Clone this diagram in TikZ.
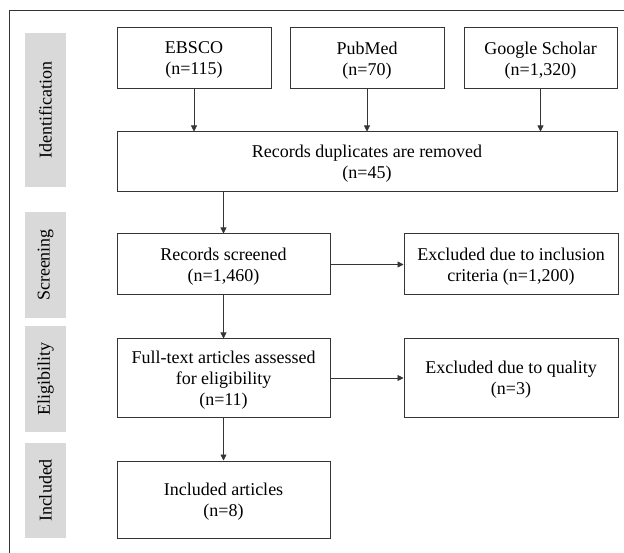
\documentclass[tikz,border=0pt]{standalone}
\usepackage{fontspec}
\setmainfont{Liberation Serif}
\usetikzlibrary{arrows.meta}
\definecolor{linegray}{HTML}{353535}
\definecolor{labelgray}{HTML}{D9D9D9}
\begin{document}
\begin{tikzpicture}[x=1pt,y=-1pt,
  box/.style={draw=linegray, line width=1pt, fill=white, align=center,
    inner sep=2pt, text depth=0pt, font=\fontsize{18}{21}\selectfont},
  phase/.style={fill=labelgray, rotate=90, inner sep=0pt, minimum height=41pt,
    font=\fontsize{18}{21}\selectfont},
  arr/.style={draw=linegray, line width=0.7pt, -{Triangle[length=6pt,width=6pt]}}]
\useasboundingbox (0,0) rectangle (624,553);
% frame (only left and top edges visible)
\coordinate (fbl) at (9,553);
\coordinate (ftl) at (9,11);
\coordinate (ftr) at (624,11);
\draw[linegray, line width=1pt] (fbl) -- (ftl) -- (ftr);
% phase labels
\node[phase, minimum width=154pt] (lid) at (45.5,110) {Identification};
\node[phase, minimum width=106pt] (lsc) at (45.5,265) {Screening};
\node[phase, minimum width=106pt] (lel) at (45.5,379) {Eligibility};
\node[phase, minimum width=95pt] (lin) at (45.5,490.5) {Included};
% boxes
\node[box, minimum width=154pt, minimum height=61pt] (ebsco) at (194,58.5) {EBSCO\\(n=115)};
\node[box, minimum width=154pt, minimum height=61pt] (pubmed) at (367,58.5) {PubMed\\(n=70)};
\node[box, minimum width=153pt, minimum height=61pt] (google) at (540.5,58.5) {Google Scholar\\(n=1,320)};
\node[box, minimum width=500pt, minimum height=60pt] (dup) at (367,162) {Records duplicates are removed\\(n=45)};
\node[box, minimum width=213pt, minimum height=61pt] (screen) at (223.5,264.5) {Records screened\\(n=1,460)};
\node[box, minimum width=214pt, minimum height=61pt] (exincl) at (511,264.5) {Excluded due to inclusion\\criteria (n=1,200)};
\node[box, minimum width=213pt, minimum height=78pt] (full) at (223.5,378) {Full-text articles assessed\\for eligibility\\(n=11)};
\node[box, minimum width=214pt, minimum height=78pt] (exqual) at (511,378) {Excluded due to quality\\(n=3)};
\node[box, minimum width=213pt, minimum height=77pt] (incl) at (223.5,499.5) {Included articles\\(n=8)};
% connectors
\draw[arr] (ebsco.south) -- (ebsco.south |- dup.north);
\draw[arr] (pubmed.south) -- (dup.north);
\draw[arr] (google.south) -- (google.south |- dup.north);
\draw[arr] (screen.north |- dup.south) -- (screen.north);
\draw[arr] (screen.east) -- (exincl.west);
\draw[arr] (screen.south) -- (full.north);
\draw[arr] (full.east) -- (exqual.west);
\draw[arr] (full.south) -- (incl.north);
\end{tikzpicture}
\end{document}
